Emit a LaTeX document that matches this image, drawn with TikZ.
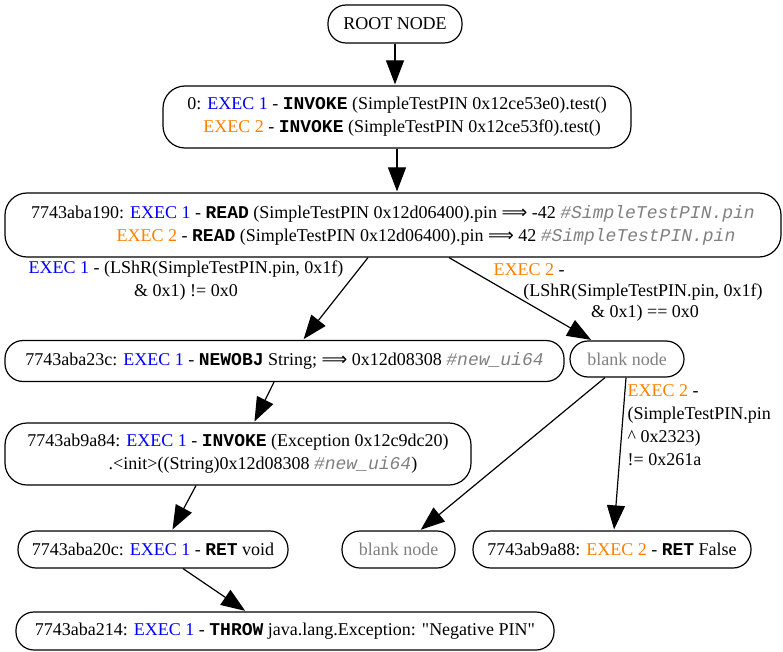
\documentclass[tikz,border=0pt]{standalone}
\usepackage{fontspec}
\setmainfont{Liberation Serif}
\setmonofont{Liberation Mono}
\newfontfamily\arrowfont{DejaVu Sans}
\usetikzlibrary{arrows.meta}

\definecolor{execone}{RGB}{0,0,255}
\definecolor{exectwo}{RGB}{255,128,0}
\definecolor{blankgray}{RGB}{128,128,128}

\newcommand{\dfont}{\fontsize{18}{23}\selectfont}
\newcommand{\eone}{\textcolor{execone}{EXEC 1}}
\newcommand{\etwo}{\textcolor{exectwo}{EXEC 2}}
\newcommand{\opc}[1]{\texttt{\bfseries #1}}
\newcommand{\cmt}[1]{\textcolor{blankgray}{\texttt{\itshape #1}}}
\newcommand{\yields}{{\arrowfont ⟹}}

\begin{document}
\begin{tikzpicture}[x=1pt, y=-1pt, line width=1.2pt,
	state/.style={draw, rounded corners=18pt, align=center, inner sep=0pt, font=\dfont},
	tall/.style={state, rounded corners=22pt, minimum height=62pt},
	blank/.style={state, text=blankgray},
	lbl/.style={inner sep=0pt, font=\dfont},
	edge/.style={-{Triangle[length=24pt,width=18pt]}, shorten >=1pt}]
	% Canvas
	\useasboundingbox (0,0) rectangle (783,652);
	
	% Nodes
	\node[state, minimum width=134pt, minimum height=38pt] (root) at (395,24) {ROOT NODE};
	\node[tall, minimum width=468pt] (n0) at (397,117)
		{0: \eone{} - \opc{INVOKE} (SimpleTestPIN 0x12ce53e0).test()\\
		 \hspace*{10pt}\etwo{} - \opc{INVOKE} (SimpleTestPIN 0x12ce53f0).test()};
	\node[tall, minimum width=776pt, minimum height=64pt] (n190) at (393,225)
		{7743aba190: \eone{} - \opc{READ} (SimpleTestPIN 0x12d06400).pin \yields{} -42 \cmt{\#SimpleTestPIN.pin}\\
		 \hspace*{66pt}\etwo{} - \opc{READ} (SimpleTestPIN 0x12d06400).pin \yields{} 42 \cmt{\#SimpleTestPIN.pin}};
	\node[state, minimum width=559pt, minimum height=41pt] (newobj) at (284.5,361)
		{7743aba23c: \eone{} - \opc{NEWOBJ} String; \yields{} 0x12d08308 \cmt{\#new\_ui64}};
	\node[blank, minimum width=114pt, minimum height=36pt] (blank1) at (627,359) {blank node};
	\node[tall, minimum width=466pt] (invoke) at (238,454)
		{7743ab9a84: \eone{} - \opc{INVOKE} (Exception 0x12c9dc20)\\
		 \hspace*{50pt}.<init>((String)0x12d08308 \cmt{\#new\_ui64})};
	\node[state, minimum width=270pt, minimum height=37pt] (retvoid) at (153,549.5)
		{7743aba20c: \eone{} - \opc{RET} void};
	\node[blank, minimum width=113pt, minimum height=37pt] (blank2) at (398.5,549.5) {blank node};
	\node[state, minimum width=278pt, minimum height=37pt] (retfalse) at (612,549.5)
		{7743ab9a88: \etwo{} - \opc{RET} False};
	\node[state, minimum width=538pt, minimum height=38pt] (throw) at (285,631)
		{7743aba214: \eone{} - \opc{THROW} java.lang.Exception: \textquotedbl Negative PIN\textquotedbl};
	
	% Edge labels
	\node[lbl, align=center] (c1) at (186,281)
		{\eone{} - (LShR(SimpleTestPIN.pin, 0x1f)\\ \& 0x1) != 0x0};
	\node[lbl, anchor=west] (c2a) at (493,270) {\etwo{} -};
	\node[lbl] (c2b) at (643,292) {(LShR(SimpleTestPIN.pin, 0x1f)};
	\node[lbl] (c2c) at (645,313) {\& 0x1) == 0x0};
	\node[lbl, align=left, anchor=west] (c3) at (627,425)
		{\etwo{} -\\(SimpleTestPIN.pin\\\textasciicircum{} 0x2323)\\!= 0x261a};
	
	% Edges
	\draw[edge] (root.south) -- (root.south |- n0.north);
	\draw[edge] (n0.south) -- (n0.south |- n190.north);
	\draw[edge] ([xshift=-25pt]n190.south) -- ([xshift=18.5pt]newobj.north);
	\draw[edge] ([xshift=56pt]n190.south) -- ([xshift=-35pt]blank1.north);
	\draw[edge] ([xshift=-10.5pt]newobj.south) -- ([xshift=16pt]invoke.north);
	\draw[edge] ([xshift=-42pt]invoke.south) -- ([xshift=19pt]retvoid.north);
	\draw[edge] ([xshift=-22pt]blank1.south) -- ([xshift=21.5pt]blank2.north);
	\draw[edge] ([xshift=-1pt]blank1.south) -- ([xshift=2pt]retfalse.north);
	\draw[edge] ([xshift=30pt]retvoid.south) -- ([xshift=-39pt]throw.north);
\end{tikzpicture}
\end{document}
